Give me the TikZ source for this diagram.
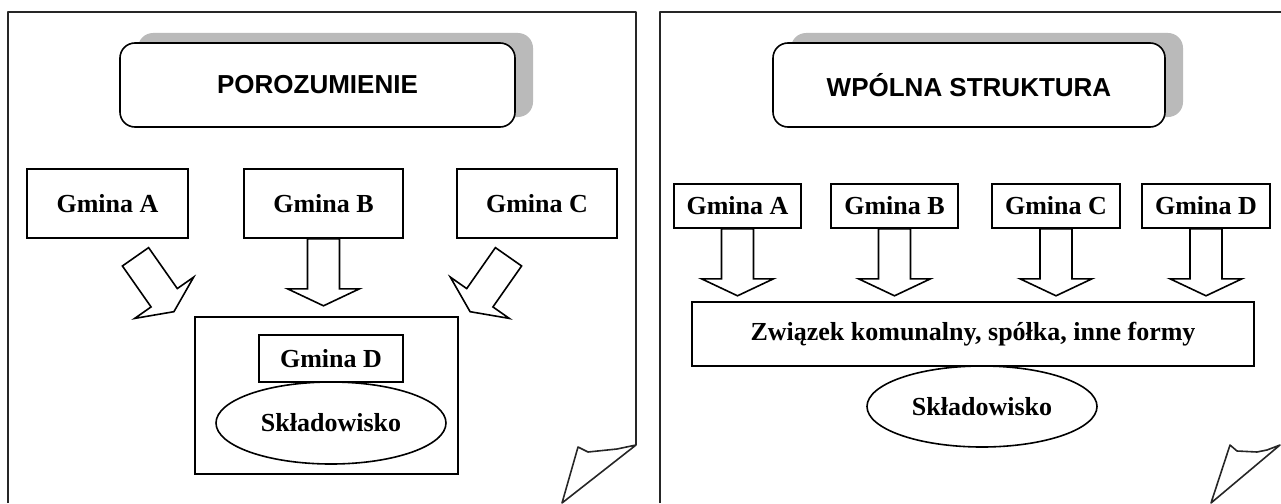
\documentclass[tikz,border=0pt]{standalone}
\usepackage{fontspec}
\setmainfont{Liberation Serif}
\setsansfont{Liberation Sans}
\usepackage{tikz}
\usetikzlibrary{arrows,positioning,shapes.geometric,shadows,calc}
\tikzset{
  %Define style for title boxes
  tytul/.style={
    rectangle,
    rounded corners=15pt,
    draw=black, line width=1.6pt,
    fill=white,
    general shadow={shadow xshift=18pt,shadow yshift=10pt,fill=black!27},
    font=\sffamily\bfseries\fontsize{26}{30}\selectfont,
    minimum height=84pt},
  %Define style for boxes
  gmina/.style={
    rectangle,
    draw=black, line width=1.6pt,
    fill=white,
    font=\bfseries\fontsize{26}{30}\selectfont,
    inner sep=0pt},
  sklad/.style={
    ellipse,
    draw=black, line width=1.6pt,
    fill=white,
    font=\bfseries\fontsize{26}{30}\selectfont,
    minimum width=230pt, minimum height=82pt, inner sep=0pt},
  % Define page frame style
  rama/.style={draw=black!85, line width=1.6pt, line join=round},
  % Define hollow block arrow
  pil/.pic={
    \draw[line width=1.6pt, fill=white, line join=miter]
      (0,-16) -- (50,-16) -- (50,-36) -- (67,0) -- (50,36) -- (50,16) -- (0,16) -- cycle;}
}

\begin{document}
\begin{tikzpicture}[x=1pt,y=-1pt]
  \useasboundingbox (0,0) rectangle (1281,503);
  % left page: porozumienie
  \draw[rama] (8,503) -- (8,12) -- (636,12) -- (636,445);
  \draw[rama] (636,445) -- (617,449) -- (588,452) -- (578,447) -- (562,503) -- cycle;
  \node[tytul, minimum width=395pt] (poroz) at (317.5,85) {POROZUMIENIE};
  \node[gmina, minimum width=161pt, minimum height=69pt] (gA) at (107.5,203.5) {Gmina A};
  \node[gmina, minimum width=159pt, minimum height=69pt] (gB) at (323.5,203.5) {Gmina B};
  \node[gmina, minimum width=160pt, minimum height=69pt] (gC) at (537,203.5) {Gmina C};
  \node[gmina, minimum width=263pt, minimum height=157pt] (gDbox) at (326.5,395.5) {};
  \node[sklad] (skladL) at (331,423) {Składowisko};
  \node[gmina, minimum width=144pt, minimum height=47pt] (gD) at (331,358.5) {Gmina D};
  \pic[rotate=-90] at (gB.south) {pil};
  \pic[rotate=-55] at ($(gA.south)+(28,18)$) {pil};
  \pic[rotate=-125] at ($(gC.south)+(-28.5,18)$) {pil};

  % right page: wspolna struktura
  \draw[rama] (660,503) -- (660,12) -- (1281,12);
  \draw[rama] (1280,445) -- (1267,450) -- (1257,452) -- (1237,451)
    -- (1230,445) -- (1211,503) -- cycle;
  \node[tytul, minimum width=392pt] (wspol) at (969,85) {WPÓLNA STRUKTURA};
  \node[gmina, minimum width=127pt, minimum height=44pt] (wA) at (737.5,206) {Gmina A};
  \node[gmina, minimum width=127pt, minimum height=44pt] (wB) at (894.5,206) {Gmina B};
  \node[gmina, minimum width=128pt, minimum height=44pt] (wC) at (1056,206) {Gmina C};
  \node[gmina, minimum width=128pt, minimum height=44pt] (wD) at (1206,206) {Gmina D};
  \node[sklad, minimum height=81pt] (skladR) at (982,406.5) {Składowisko};
  \node[gmina, minimum width=562pt, minimum height=64pt] (zwiazek) at (973,334)
    {Związek komunalny, spółka, inne formy};
  \foreach \g in {wA,wB,wC,wD}
    \pic[rotate=-90] at (\g.south) {pil};
\end{tikzpicture}
\end{document}
